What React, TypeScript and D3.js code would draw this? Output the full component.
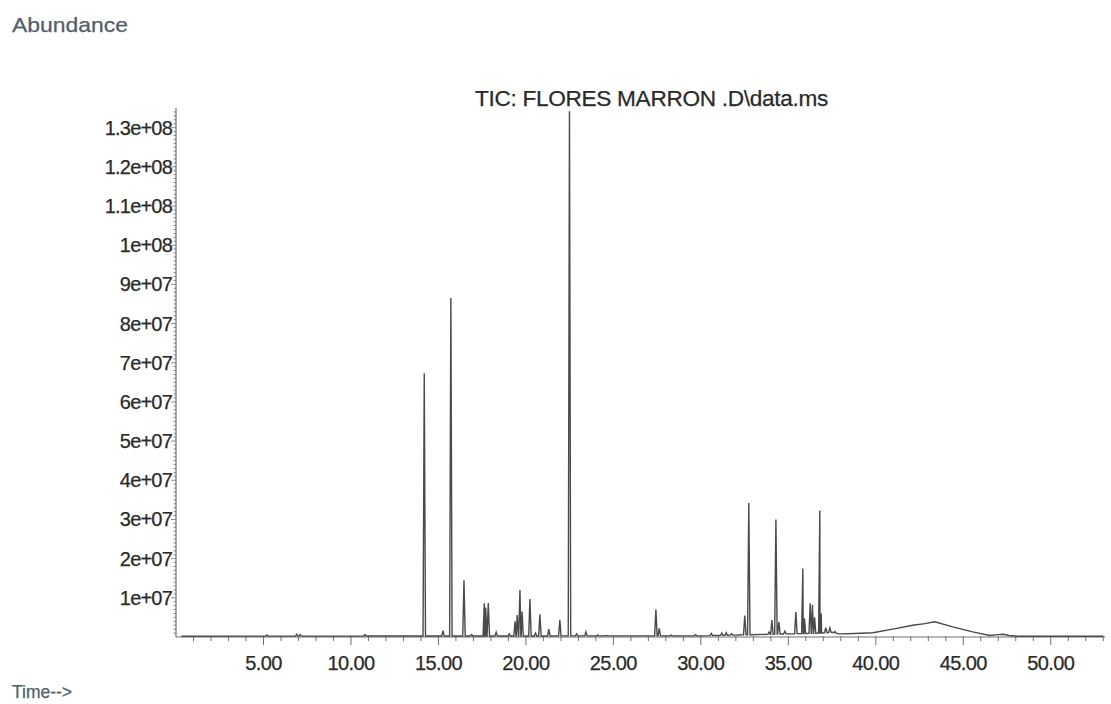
import { useEffect, useRef } from "react";
import * as d3 from "d3";

// y axis ticks (abundance)
const yTicks = [1e7, 2e7, 3e7, 4e7, 5e7, 6e7, 7e7, 8e7, 9e7, 1e8, 1.1e8, 1.2e8, 1.3e8];
const yTickLabels = ["1e+07", "2e+07", "3e+07", "4e+07", "5e+07", "6e+07", "7e+07", "8e+07", "9e+07", "1e+08", "1.1e+08", "1.2e+08", "1.3e+08"];

// x axis ticks (minutes)
const xTicks = [5, 10, 15, 20, 25, 30, 35, 40, 45, 50];
const xTickLabels = ["5.00", "10.00", "15.00", "20.00", "25.00", "30.00", "35.00", "40.00", "45.00", "50.00"];

// peaks: retention time (min) and apex abundance
const peakTimes = [
  5.2, 6.9, 7.1, 10.8, 14.19, 15.26, 15.71, 16.46, 16.9, 17.62, 17.7, 17.85, 18.3,
  19.05, 19.38, 19.5, 19.66, 19.78, 20.23, 20.55, 20.8, 21.31, 21.94, 22.49, 22.9,
  23.43, 24.1, 24.6, 27.43, 27.62, 28.3, 29.7, 30.6, 31.2, 31.45, 31.75, 32.2, 32.51,
  32.74, 33.9, 34.06, 34.29, 34.46, 34.8, 35.43, 35.83, 35.92, 36.25, 36.38, 36.5,
  36.8, 36.88, 37.14, 37.37, 37.66,
];
const peakHeights = [
  0.5e6, 0.7e6, 0.6e6, 0.6e6, 67.3e6, 1.6e6, 86.5e6, 14.5e6, 0.6e6, 8.6e6, 7.5e6, 8.7e6, 1.2e6,
  0.8e6, 4.0e6, 5.6e6, 12.0e6, 6.5e6, 9.7e6, 1.0e6, 5.8e6, 2.0e6, 4.3e6, 134.2e6, 0.8e6,
  1.3e6, 0.5e6, 0.4e6, 7.0e6, 2.2e6, 0.5e6, 0.6e6, 0.9e6, 1.0e6, 1.1e6, 0.8e6, 0.6e6, 5.5e6,
  34.2e6, 1.3e6, 4.3e6, 30.0e6, 3.8e6, 1.5e6, 6.4e6, 17.5e6, 4.8e6, 8.6e6, 8.2e6, 5.0e6,
  32.3e6, 6.0e6, 2.4e6, 2.3e6, 1.4e6,
];

// baseline / column bleed hump
const baseTimes = [0.3, 14.0, 30.0, 36.9, 37.5, 37.9, 38.8, 39.83, 40.97, 42.11, 42.8, 43.37, 44.4, 45.54, 46.51, 47.0, 47.3, 47.6, 48.06, 53.0];
const baseLevels = [0.2e6, 0.25e6, 0.3e6, 1.0e6, 1.2e6, 0.8e6, 0.9e6, 1.1e6, 2.0e6, 3.0e6, 3.4e6, 3.9e6, 2.6e6, 1.3e6, 0.4e6, 0.6e6, 0.7e6, 0.4e6, 0.2e6, 0.2e6];

const FONT = "'Liberation Sans', Arial, sans-serif";

function Chromatogram() {
  const ref = useRef<SVGSVGElement>(null);

  useEffect(() => {
    document.body.style.margin = "0";
    const svg = d3.select(ref.current);
    svg.selectAll("*").remove();

    const x = d3.scaleLinear().domain([0, 53.1]).range([176, 1105]);
    const y = d3.scaleLinear().domain([0, 1.345e8]).range([637, 110]);
    const x0 = 176;
    const y0 = 637;

    // build trace: baseline points + narrow spikes
    const base = d3.scaleLinear().domain(baseTimes).range(baseLevels).clamp(true);
    const hw = 0.07;
    const pts: [number, number][] = baseTimes.map((t, i) => [t, baseLevels[i]]);
    peakTimes.forEach((t, i) => {
      pts.push([t - hw, base(t - hw)], [t, Math.max(peakHeights[i], base(t))], [t + hw, base(t + hw)]);
    });
    pts.sort((a, b) => a[0] - b[0]);

    const line = d3
      .line<[number, number]>()
      .x((d) => x(d[0]))
      .y((d) => y(d[1]));

    const axisColor = "#707070";
    const labelColor = "#2a2a2a";

    // x axis line and ticks
    svg.append("line")
      .attr("x1", x0).attr("x2", 1105).attr("y1", y0).attr("y2", y0)
      .attr("stroke", axisColor).attr("stroke-width", 1.2);
    svg.append("g").selectAll("line")
      .data(d3.range(1, 54))
      .enter().append("line")
      .attr("x1", (d) => x(d)).attr("x2", (d) => x(d))
      .attr("y1", y0 - 1)
      .attr("y2", (d) => (d % 5 === 0 ? y0 + 8 : y0 + 4))
      .attr("stroke", axisColor).attr("stroke-width", 1);
    svg.append("g").selectAll("text")
      .data(xTicks)
      .enter().append("text")
      .attr("x", (d) => x(d))
      .attr("y", 670)
      .attr("text-anchor", "middle")
      .attr("fill", labelColor)
      .attr("stroke", labelColor).attr("stroke-width", 0.25)
      .style("font-family", FONT)
      .style("font-size", "20px")
      .style("letter-spacing", "-0.6px")
      .text((d, i) => xTickLabels[i]);

    // y axis line and ticks
    svg.append("line")
      .attr("x1", x0).attr("x2", x0).attr("y1", y0).attr("y2", 108)
      .attr("stroke", axisColor).attr("stroke-width", 1.2);
    svg.append("g").selectAll("line")
      .data(d3.range(1, 135).map((k) => k * 1e6))
      .enter().append("line")
      .attr("x1", (d) => (Math.round(d / 1e6) % 10 === 0 ? x0 - 5 : x0 - 2.5))
      .attr("x2", x0)
      .attr("y1", (d) => y(d)).attr("y2", (d) => y(d))
      .attr("stroke", axisColor).attr("stroke-width", 0.8);
    svg.append("g").selectAll("text")
      .data(yTicks)
      .enter().append("text")
      .attr("x", 172)
      .attr("y", (d) => y(d) + 7)
      .attr("text-anchor", "end")
      .attr("fill", labelColor)
      .attr("stroke", labelColor).attr("stroke-width", 0.25)
      .style("font-family", FONT)
      .style("font-size", "20px")
      .style("letter-spacing", "-0.8px")
      .text((d, i) => yTickLabels[i]);

    // trace
    svg.append("path")
      .datum(pts)
      .attr("fill", "none")
      .attr("stroke", "#4a4a4a")
      .attr("stroke-width", 1.4)
      .attr("stroke-linejoin", "miter")
      .attr("d", line);

    // texts
    svg.append("text")
      .attr("x", 475).attr("y", 106)
      .attr("fill", labelColor)
      .attr("stroke", labelColor).attr("stroke-width", 0.25)
      .style("font-family", FONT)
      .style("font-size", "22px")
      .style("letter-spacing", "-0.3px")
      .attr("textLength", 353)
      .attr("lengthAdjust", "spacingAndGlyphs")
      .text("TIC: FLORES MARRON .D\\data.ms");

    svg.append("text")
      .attr("x", 12).attr("y", 32)
      .attr("fill", "#4f5e6c")
      .attr("stroke", "#4f5e6c").attr("stroke-width", 0.25)
      .style("font-family", FONT)
      .style("font-size", "21px")
      .attr("textLength", 116)
      .attr("lengthAdjust", "spacingAndGlyphs")
      .text("Abundance");

    svg.append("text")
      .attr("x", 12).attr("y", 698)
      .attr("fill", "#4f5e6c")
      .attr("stroke", "#4f5e6c").attr("stroke-width", 0.25)
      .style("font-family", FONT)
      .style("font-size", "19px")
      .attr("textLength", 60)
      .attr("lengthAdjust", "spacingAndGlyphs")
      .text("Time-->");
  }, []);

  return <svg ref={ref} width={1111} height={704} style={{ display: "block", background: "#fff" }} />;
}

export default function App() {
  return <Chromatogram />;
}
